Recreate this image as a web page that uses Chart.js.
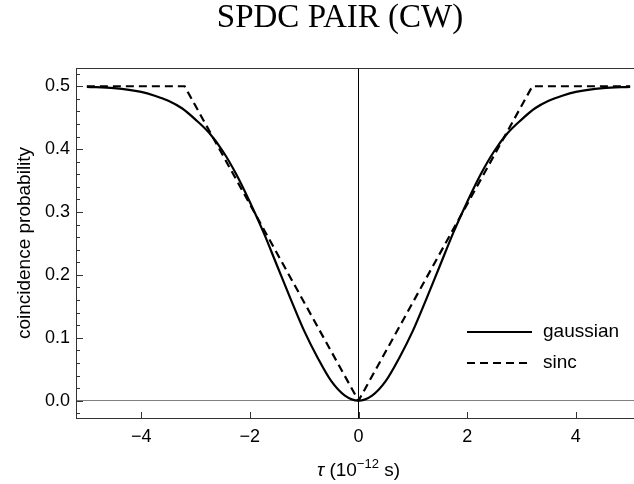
<!DOCTYPE html>
<html>
<head>
<meta charset="utf-8">
<script src="https://cdn.jsdelivr.net/npm/chart.js@4.4.0/dist/chart.umd.min.js"></script>
<style>
  html, body { margin: 0; padding: 0; overflow: hidden; background: #fff; }
  canvas { display: block; }
</style>
</head>
<body>
<canvas id="c" width="642" height="484"></canvas>
<script>
// values
var tauGauss = [-5, -4.5, -4, -3.75, -3.5, -3.25, -3, -2.75, -2.5, -2.25, -2, -1.75, -1.5, -1.25, -1, -0.75, -0.5, -0.25, 0,
  0.25, 0.5, 0.75, 1, 1.25, 1.5, 1.75, 2, 2.25, 2.5, 2.75, 3, 3.25, 3.5, 3.75, 4, 4.5, 5];
var gaussian = [0.499, 0.497, 0.491, 0.485, 0.477, 0.465, 0.447, 0.426, 0.397, 0.360, 0.316, 0.268, 0.215, 0.162, 0.111, 0.068, 0.031, 0.008, 0,
  0.008, 0.031, 0.068, 0.111, 0.162, 0.215, 0.268, 0.316, 0.360, 0.397, 0.426, 0.447, 0.465, 0.477, 0.485, 0.491, 0.497, 0.499];
var tauSinc = [-5, -3.2, 0, 3.2, 5];
var sinc = [0.5, 0.5, 0, 0.5, 0.5];

var xTicks = [-4, -2, 0, 2, 4];
var yMajor = [0, 0.1, 0.2, 0.3, 0.4, 0.5];
var yMinor = [-0.02, 0.02, 0.04, 0.06, 0.08, 0.12, 0.14, 0.16, 0.18, 0.22, 0.24, 0.26, 0.28,
  0.32, 0.34, 0.36, 0.38, 0.42, 0.44, 0.46, 0.48, 0.52];

var SANS = '"Liberation Sans", Arial, Helvetica, sans-serif';
var SERIF = '"Liberation Serif", "Times New Roman", serif';

var toPoints = function(xs, ys){
  return xs.map(function(x, i){ return { x: x, y: ys[i] }; });
}

// frame, inward ticks, titles and legend
var decor = {
  id: 'decor',
  afterDraw: function(chart){
    var ctx = chart.ctx, a = chart.chartArea, sx = chart.scales.x, sy = chart.scales.y;
    ctx.save();
    ctx.strokeStyle = '#333';
    ctx.lineWidth = 1;
    ctx.beginPath();
    ctx.moveTo(a.left, a.top + 0.5); ctx.lineTo(a.right, a.top + 0.5);
    ctx.moveTo(a.right - 0.5, a.top); ctx.lineTo(a.right - 0.5, a.bottom);
    ctx.stroke();

    ctx.beginPath();
    xTicks.forEach(function(v){
      var px = Math.round(sx.getPixelForValue(v)) + 0.5;
      ctx.moveTo(px, a.bottom); ctx.lineTo(px, a.bottom - 6);
    });
    yMajor.forEach(function(v){
      var py = Math.round(sy.getPixelForValue(v)) + 0.5;
      ctx.moveTo(a.left, py); ctx.lineTo(a.left + 7, py);
    });
    yMinor.forEach(function(v){
      var py = Math.round(sy.getPixelForValue(v)) + 0.5;
      ctx.moveTo(a.left, py); ctx.lineTo(a.left + 4, py);
    });
    ctx.stroke();

    // title
    ctx.fillStyle = '#000';
    ctx.font = '33px ' + SERIF;
    ctx.textAlign = 'center';
    ctx.textBaseline = 'alphabetic';
    ctx.fillText('SPDC PAIR (CW)', 340, 27);

    // x axis title with superscript
    var parts = [
      { t: 'τ', f: 'italic 19px ' + SANS, dy: 0 },
      { t: ' (10', f: '19px ' + SANS, dy: 0 },
      { t: '−12', f: '13px ' + SANS, dy: -8 },
      { t: ' s)', f: '19px ' + SANS, dy: 0 }
    ];
    var total = 0;
    parts.forEach(function(p){ ctx.font = p.f; p.w = ctx.measureText(p.t).width; total += p.w; });
    var cx = sx.getPixelForValue(0), x = cx - total / 2;
    ctx.textAlign = 'left';
    parts.forEach(function(p){ ctx.font = p.f; ctx.fillText(p.t, x, 476 + p.dy); x += p.w; });

    // y axis title
    ctx.save();
    ctx.translate(25, (a.top + a.bottom) / 2);
    ctx.rotate(-Math.PI / 2);
    ctx.font = '19px ' + SANS;
    ctx.textAlign = 'center';
    ctx.textBaseline = 'middle';
    ctx.fillText('coincidence probability', 0, 0);
    ctx.restore();

    // legend
    ctx.strokeStyle = '#000';
    ctx.lineWidth = 2.2;
    ctx.beginPath(); ctx.moveTo(467, 332); ctx.lineTo(532, 332); ctx.stroke();
    ctx.setLineDash([8, 5]);
    ctx.beginPath(); ctx.moveTo(467, 363); ctx.lineTo(532, 363); ctx.stroke();
    ctx.setLineDash([]);
    ctx.font = '19px ' + SANS;
    ctx.textAlign = 'left';
    ctx.textBaseline = 'middle';
    ctx.fillText('gaussian', 543, 332);
    ctx.fillText('sinc', 543, 363);
    ctx.restore();
  }
}

var chart = new Chart(document.getElementById('c'), {
  type: 'scatter',
  data: {
    datasets: [
      { label: 'gaussian', data: toPoints(tauGauss, gaussian), showLine: true, borderColor: '#000', borderWidth: 2.2,
        pointRadius: 0, cubicInterpolationMode: 'monotone' },
      { label: 'sinc', data: toPoints(tauSinc, sinc), showLine: true, borderColor: '#000', borderWidth: 2.2,
        borderDash: [8, 5], pointRadius: 0, tension: 0 }
    ]
  },
  options: {
    responsive: false,
    animation: false,
    layout: { padding: { top: 68, right: 1, left: 0, bottom: 0 } },
    plugins: { legend: { display: false }, tooltip: { enabled: false }, title: { display: false } },
    scales: {
      x: {
        type: 'linear', min: -5.2, max: 5.2,
        afterBuildTicks: function(s){ s.ticks = xTicks.map(function(v){ return { value: v }; }); },
        afterFit: function(s){ s.height = 66; },
        grid: { drawTicks: false, lineWidth: 1,
          color: function(c){ return c.tick && c.tick.value === 0 ? '#000' : 'rgba(0,0,0,0)'; } },
        border: { color: '#333', width: 1 },
        ticks: { padding: 8, color: '#000', font: { family: SANS, size: 18 },
          callback: function(v){ return v < 0 ? '−' + Math.abs(v) : String(v); } }
      },
      y: {
        type: 'linear', min: -0.0275, max: 0.529,
        afterBuildTicks: function(s){ s.ticks = yMajor.map(function(v){ return { value: v }; }); },
        afterFit: function(s){ s.width = 76; },
        grid: { drawTicks: false, lineWidth: 1,
          color: function(c){ return c.tick && c.tick.value === 0 ? '#808080' : 'rgba(0,0,0,0)'; } },
        border: { color: '#333', width: 1 },
        ticks: { padding: 6, color: '#000', font: { family: SANS, size: 18 },
          callback: function(v){ return v.toFixed(1); } }
      }
    }
  },
  plugins: [decor]
});
</script>
</body>
</html>
